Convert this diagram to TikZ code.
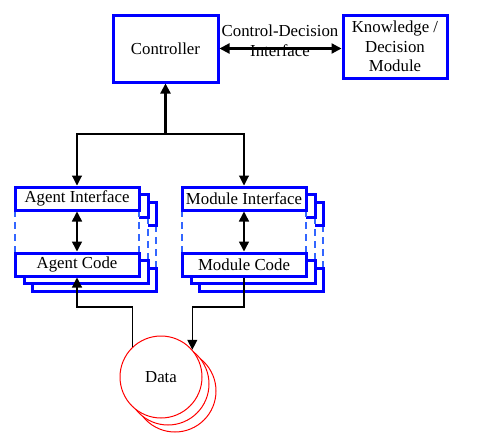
\documentclass[tikz,border=0pt]{standalone}
\usepackage{fontspec}
\setmainfont{Liberation Serif}
\usetikzlibrary{arrows.meta, positioning}

\begin{document}
\begin{tikzpicture}[x=1pt, y=-1pt]
        % Define styles
        \tikzset{
            txt/.style={font=\fontsize{16.8}{19.5}\selectfont, align=center},
            blk/.style={txt, draw=blue, line width=3pt, fill=white, inner sep=0pt},
            sheet/.style={draw=blue, line width=3pt, fill=white},
            side/.style={draw={rgb,255:red,51;green,102;blue,255}, line width=2.2pt, dash pattern=on 7pt off 5pt},
            link/.style={line width=1.1pt},
            heavy/.style={line width=2.2pt},
            tip/.style={-{Triangle[length=10pt,width=10pt]}},
            tips/.style={{Triangle[length=10pt,width=10pt]}-{Triangle[length=10pt,width=10pt]}}
        }
        \useasboundingbox (0,0) rectangle (480,439);
        % Controller and knowledge module
        \node[blk, minimum width=105pt, minimum height=67pt] (ctrl) at (165.5,48.5) {Controller};
        \node[blk, minimum width=104pt, minimum height=63pt] (know) at (395,46.5) {Knowledge /\\Decision\\Module};
        \node[txt] (cdi) at (280,41) {Control-Decision\\Interface};
        \draw[heavy, tips] (ctrl.east) -- (ctrl.east -| know.west);
        % Stacked sheets behind agent and module
        \foreach \l/\r in {15/139, 182/306} {
            \foreach \dx/\dy in {17/15, 9/7} {
                \fill[white] (\l+\dx,187+\dy) rectangle (\r+\dx,276+\dy);
                \draw[side] (\l+\dx,210+\dy) -- (\l+\dx,253+\dy) (\r+\dx,210+\dy) -- (\r+\dx,253+\dy);
                \draw[sheet] (\l+\dx,187+\dy) rectangle (\r+\dx,210+\dy);
                \draw[sheet] (\l+\dx,253+\dy) rectangle (\r+\dx,276+\dy);
            }
            \fill[white] (\l,187) rectangle (\r,276);
            \draw[side] (\l,210) -- (\l,253) (\r,210) -- (\r,253);
        }
        % Front sheets
        \node[blk, minimum width=124pt, minimum height=23pt] (agentif) at (77,198.5) {Agent Interface};
        \node[blk, minimum width=124pt, minimum height=23pt] (agentcode) at (77,264.5) {Agent Code};
        \node[blk, minimum width=124pt, minimum height=23pt] (modif) at (244,198.5) {Module Interface};
        \node[blk, minimum width=124pt, minimum height=23pt] (modcode) at (244,264.5) {Module Code};
        \draw[line width=1.5pt, tips] (agentif.south) -- (agentcode.north);
        \draw[line width=1.5pt, tips] (modif.south) -- (modcode.north);
        % Data stores
        \foreach \d in {14,7}
            \draw[red, line width=1pt, fill=white] (161+\d,377+\d) circle[radius=41pt];
        \node[txt, circle, draw=red, line width=1pt, fill=white, minimum size=82pt, inner sep=0pt] (data) at (161,377) {Data};
        % Connectors
        \coordinate (topbus) at (0,134);
        \coordinate (lowbus) at (0,307);
        \draw[link, tip] (ctrl.south |- topbus) -| (agentif.north);
        \draw[link, tip] (ctrl.south |- topbus) -| (modif.north);
        \draw[heavy, tip] (ctrl.south |- topbus) -- (ctrl.south);
        \draw[link, tip] (data.133) -- (data.133 |- lowbus) -| (agentcode.south);
        \draw[link, tip] (modcode.south) |- (lowbus -| data.41) -- (data.41);
\end{tikzpicture}
\end{document}
